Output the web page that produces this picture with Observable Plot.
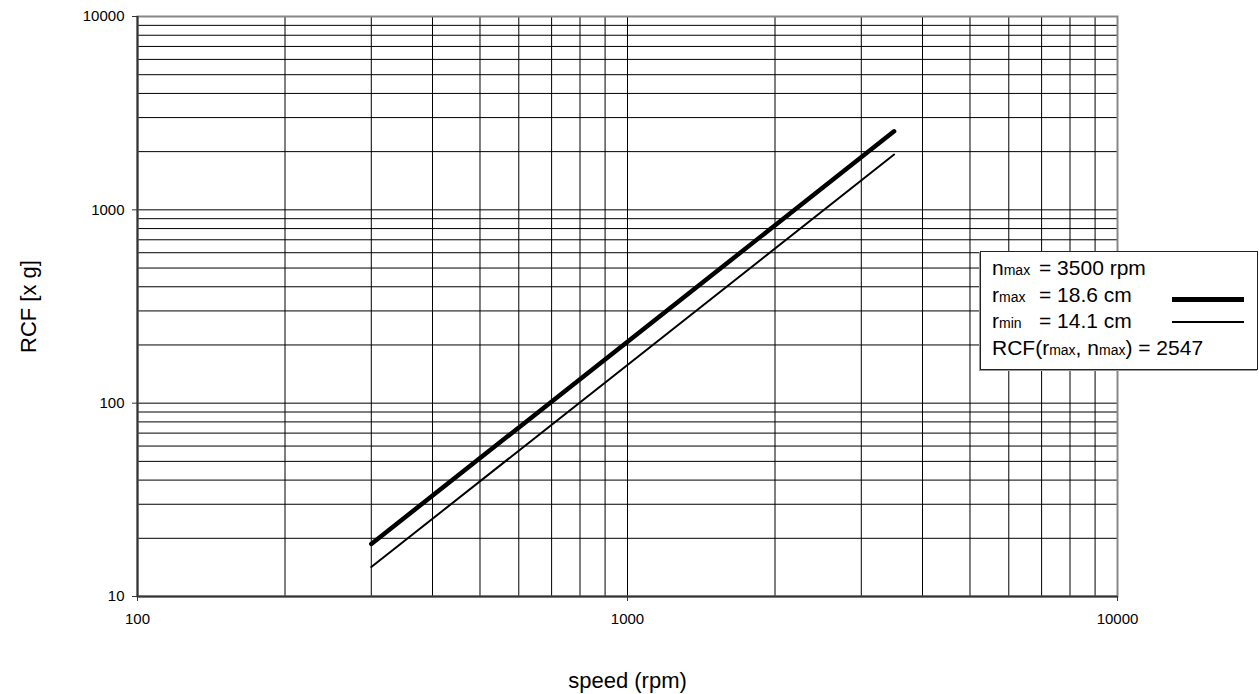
<!DOCTYPE html>
<html><head><meta charset="utf-8">
<script src="https://cdn.jsdelivr.net/npm/d3@7"></script>
<script src="https://cdn.jsdelivr.net/npm/@observablehq/plot@0.6"></script>
<style>
body{margin:0;background:#fff;font-family:"Liberation Sans",Arial,sans-serif;}
#wrap{position:relative;width:1259px;height:694px;overflow:hidden;}
#legend{position:absolute;left:980px;top:251px;width:278px;height:119px;border:1px solid #222;background:#fff;box-shadow:-1px 1px 0 #999;font-size:21px;color:#000;box-sizing:border-box;padding:4px 0 0 11px;line-height:24.5px;white-space:nowrap;}
.sub{font-size:14px}
.nm{display:inline-block;width:47px}
.ln{position:absolute;left:191px;width:72px;background:#000}
</style></head><body><div id="wrap"></div>
<script>
// data
const speeds = [300, 3500];
const rcfRmax = [18.7, 2547];
const rcfRmin = [14.2, 1931];
// axes
const xTicks = [100, 1000, 10000];
const yTicks = [10, 100, 1000, 10000];
const xGrid = [200, 300, 400, 500, 600, 700, 800, 900, 1000, 2000, 3000, 4000, 5000, 6000, 7000, 8000, 9000];
const yGrid = [20, 30, 40, 50, 60, 70, 80, 90, 100, 200, 300, 400, 500, 600, 700, 800, 900, 1000, 2000, 3000, 4000, 5000, 6000, 7000, 8000, 9000];
const xTitle = "speed (rpm)";
const yTitle = "RCF [x g]";

const rows = [];
speeds.forEach((s, i) => {
  rows.push({speed: s, rcf: rcfRmax[i], series: "rmax"});
  rows.push({speed: s, rcf: rcfRmin[i], series: "rmin"});
});

const chart = Plot.plot({
  width: 1259,
  height: 694,
  marginLeft: 137,
  marginRight: 142,
  marginTop: 16,
  marginBottom: 98,
  style: {fontFamily: '"Liberation Sans", Arial, sans-serif', fontSize: "15px", color: "#000", background: "#fff"},
  x: {type: "log", domain: [100, 10000]},
  y: {type: "log", domain: [10, 10000]},
  marks: [
    Plot.ruleX(xGrid, {x: d => d, stroke: "#000", strokeWidth: 1}),
    Plot.ruleY(yGrid, {y: d => d, stroke: "#000", strokeWidth: 1}),
    Plot.frame({stroke: "#888", strokeWidth: 2}),
    Plot.ruleX([100], {x: d => d, stroke: "#333", strokeWidth: 2}),
    Plot.ruleY([10], {y: d => d, stroke: "#333", strokeWidth: 2}),
    Plot.axisX({ticks: xTicks, tickSize: 5, tickPadding: 12, tickFormat: d => String(d), fontSize: 15, label: null, stroke: "#333"}),
    Plot.axisY({ticks: yTicks, tickSize: 5, tickPadding: 8, tickFormat: d => String(d), fontSize: 15, label: null, stroke: "#333"}),
    Plot.line(rows.filter(d => d.series === "rmax"), {x: "speed", y: "rcf", stroke: "#000", strokeWidth: 4.5, strokeLinecap: "round"}),
    Plot.line(rows.filter(d => d.series === "rmin"), {x: "speed", y: "rcf", stroke: "#000", strokeWidth: 2}),
    Plot.text([xTitle], {text: d => d, frameAnchor: "bottom", lineAnchor: "middle", textAnchor: "middle", dy: 84, fontSize: 22}),
    Plot.text([yTitle], {text: d => d, frameAnchor: "left", lineAnchor: "middle", textAnchor: "middle", rotate: -90, dx: -109, fontSize: 22})
  ]
});

const wrap = document.getElementById("wrap");
wrap.appendChild(chart);

const legend = document.createElement("div");
legend.id = "legend";
legend.innerHTML =
  '<div><span class="nm">n<span class="sub">max</span></span>= 3500 rpm</div>' +
  '<div><span class="nm">r<span class="sub">max</span></span>= 18.6 cm</div>' +
  '<div><span class="nm">r<span class="sub">min</span></span>= 14.1 cm</div>' +
  '<div>RCF(r<span class="sub">max</span>, n<span class="sub">max</span>) = 2547</div>' +
  '<div class="ln" style="top:45px;height:5px"></div>' +
  '<div class="ln" style="top:69px;height:2px"></div>';
wrap.appendChild(legend);
</script>
</body></html>
